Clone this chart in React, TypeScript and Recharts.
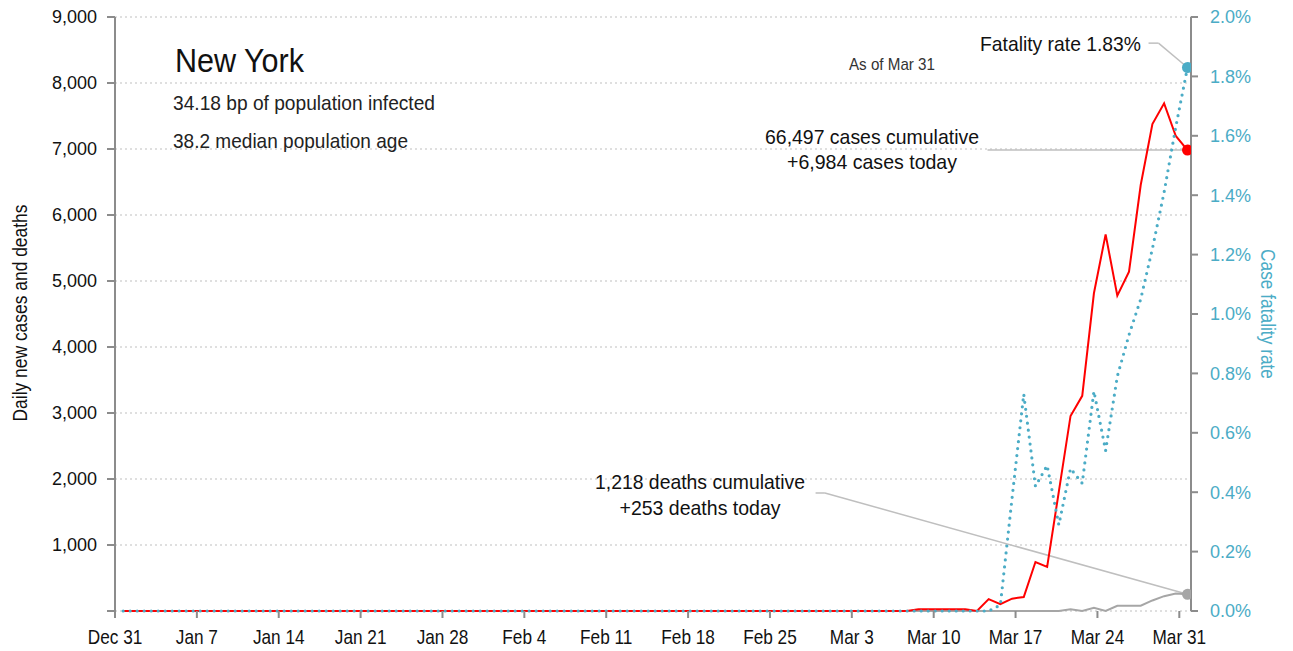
import React from "react";
import { LineChart, Line, XAxis, YAxis, CartesianGrid, ReferenceLine } from "recharts";

const SANS = '"Liberation Sans", Arial, Helvetica, sans-serif';

const RED = "#FF0000";
const CYAN = "#4BACC6";
const GREY = "#A6A6A6";
const LEADER = "#BFBFBF";
const AXIS = "#8C8C8C";

// Day 0 = Dec 31 2019 ... day 91 = Mar 31 2020 (reports land late in the day)
const REPORT_OFFSET = 0.7;
const TICK_DAYS = [0, 7, 14, 21, 28, 35, 42, 49, 56, 63, 70, 77, 84, 91];
const TICK_LABELS = ["Dec 31", "Jan 7", "Jan 14", "Jan 21", "Jan 28", "Feb 4", "Feb 11", "Feb 18", "Feb 25", "Mar 3", "Mar 10", "Mar 17", "Mar 24", "Mar 31"];
const LEFT_TICKS = [0, 1000, 2000, 3000, 4000, 5000, 6000, 7000, 8000, 9000];
const RIGHT_TICKS = [0, 0.2, 0.4, 0.6, 0.8, 1.0, 1.2, 1.4, 1.6, 1.8, 2.0];

// Daily new cases, Dec 31 .. Mar 31
const DAILY_CASES = [
  0, 0, 0, 0, 0, 0, 0, 0, 0, 0,
  0, 0, 0, 0, 0, 0, 0, 0, 0, 0,
  0, 0, 0, 0, 0, 0, 0, 0, 0, 0,
  0, 0, 0, 0, 0, 0, 0, 0, 0, 0,
  0, 0, 0, 0, 0, 0, 0, 0, 0, 0,
  0, 0, 0, 0, 0, 0, 0, 0, 0, 0,
  0, 0, 0, 0, 0, 0, 0, 0,
  25, 25, 25, 25, 25, 0, 180, 105, 187, 212, 742, 668,
  1810, 2955, 3260, 4814, 5707, 4777, 5141, 6454, 7379, 7692, 7197, 6984,
];

// Daily new deaths, Dec 31 .. Mar 31
const DAILY_DEATHS = [
  0, 0, 0, 0, 0, 0, 0, 0, 0, 0,
  0, 0, 0, 0, 0, 0, 0, 0, 0, 0,
  0, 0, 0, 0, 0, 0, 0, 0, 0, 0,
  0, 0, 0, 0, 0, 0, 0, 0, 0, 0,
  0, 0, 0, 0, 0, 0, 0, 0, 0, 0,
  0, 0, 0, 0, 0, 0, 0, 0, 0, 0,
  0, 0, 0, 0, 0, 0, 0, 0, 0, 0,
  0, 0, 0, 0, 0, 0, 0, 0, 0, 0,
  0,
  25, 0, 50, 0, 80, 80, 80, 160, 225, 265, 253,
];

// Case fatality rate (%), Dec 31 .. Mar 31
const FATALITY_RATE = [
  0, 0, 0, 0, 0, 0, 0, 0, 0, 0,
  0, 0, 0, 0, 0, 0, 0, 0, 0, 0,
  0, 0, 0, 0, 0, 0, 0, 0, 0, 0,
  0, 0, 0, 0, 0, 0, 0, 0, 0, 0,
  0, 0, 0, 0, 0, 0, 0, 0, 0, 0,
  0, 0, 0, 0, 0, 0, 0, 0, 0, 0,
  0, 0, 0, 0, 0, 0, 0, 0, 0, 0,
  0, 0, 0, 0, 0,
  0.02, 0.38, 0.73, 0.42, 0.49, 0.29, 0.48, 0.43, 0.74, 0.54,
  0.79, 0.93, 1.05, 1.22, 1.41, 1.63, 1.83,
];

const data = DAILY_CASES.map((c, i) => ({
  x: i + REPORT_OFFSET,
  cases: c,
  deaths: DAILY_DEATHS[i],
  rate: FATALITY_RATE[i],
}));
const LAST = data.length - 1;
const last = data[LAST];

const fmtThousands = (v: number) => v.toLocaleString("en-US");

const XTick = (props: any) => {
  const { x, y, payload } = props;
  const idx = TICK_DAYS.indexOf(payload.value);
  return (
    <text
      transform={`translate(${x} ${y}) scale(0.82 1)`}
      x={0}
      y={0}
      dy="0.71em"
      textAnchor="middle"
      fontFamily={SANS}
      fontSize={21}
      fill="#111"
    >
      {idx >= 0 ? TICK_LABELS[idx] : ""}
    </text>
  );
};

const LeftTick = (props: any) => {
  const { x, y, payload } = props;
  if (payload.value === 0) return <g />;
  return (
    <text x={x} y={y} dy="0.355em" textAnchor="end" fontFamily={SANS} fontSize={18} fill="#111">
      {fmtThousands(payload.value)}
    </text>
  );
};

const RightTick = (props: any) => {
  const { x, y, payload } = props;
  return (
    <text x={x} y={y} dy="0.355em" textAnchor="start" fontFamily={SANS} fontSize={18} fill={CYAN}>
      {`${Number(payload.value).toFixed(1)}%`}
    </text>
  );
};

const endDot = (color: string, r: number) => (p: any) => {
  if (p.index !== LAST) return <g key={`e${p.index}`} />;
  return <circle key={`e${p.index}`} cx={p.cx} cy={p.cy} r={r} fill={color} stroke="none" />;
};

type LabelProps = {
  x: number;
  y: number;
  size: number;
  width: number;
  anchor?: "start" | "middle" | "end";
  fill?: string;
  transform?: string;
  children: React.ReactNode;
};

const Label = ({ x, y, size, width, anchor = "start", fill = "#111", transform, children }: LabelProps) => (
  <text
    x={x}
    y={y}
    fontFamily={SANS}
    fontSize={size}
    fill={fill}
    textAnchor={anchor}
    textLength={width}
    lengthAdjust="spacingAndGlyphs"
    transform={transform}
  >
    {children}
  </text>
);

export default function App() {
  return (
    <div style={{ position: "fixed", left: 0, top: 0, width: 1293, height: 651, background: "#fff" }}>
      <LineChart width={1293} height={651} data={data} margin={{ top: 17, right: 0, bottom: 0, left: 0 }}>
        <CartesianGrid vertical={false} stroke={LEADER} strokeDasharray="2 3" />
        <XAxis
          type="number"
          dataKey="x"
          domain={[0, 92]}
          ticks={TICK_DAYS}
          interval={0}
          height={40}
          tickSize={7}
          tickMargin={11}
          axisLine={false}
          tickLine={{ stroke: AXIS, strokeWidth: 2 }}
          tick={XTick}
          allowDataOverflow
        />
        <YAxis
          domain={[0, 9000]}
          ticks={LEFT_TICKS}
          interval={0}
          width={115}
          tickSize={8}
          tickMargin={10}
          axisLine={{ stroke: AXIS, strokeWidth: 2 }}
          tickLine={{ stroke: AXIS, strokeWidth: 2 }}
          tick={LeftTick}
        />
        <YAxis
          yAxisId="right"
          orientation="right"
          domain={[0, 2]}
          ticks={RIGHT_TICKS}
          interval={0}
          width={102}
          tickSize={7}
          tickMargin={12}
          axisLine={{ stroke: AXIS, strokeWidth: 2 }}
          tickLine={{ stroke: AXIS, strokeWidth: 2 }}
          tick={RightTick}
        />

        <ReferenceLine segment={[{ x: 59.9, y: 1788 }, { x: 60.7, y: 1788 }]} stroke={LEADER} strokeWidth={1.5} ifOverflow="visible" />
        <ReferenceLine segment={[{ x: 60.7, y: 1788 }, { x: last.x, y: last.deaths }]} stroke={LEADER} strokeWidth={1.5} ifOverflow="visible" />
        <ReferenceLine segment={[{ x: 74.6, y: last.cases }, { x: last.x, y: last.cases }]} stroke={LEADER} strokeWidth={1.5} ifOverflow="visible" />
        <ReferenceLine yAxisId="right" segment={[{ x: 88.37, y: 1.912 }, { x: 89.22, y: 1.912 }]} stroke={LEADER} strokeWidth={1.5} ifOverflow="visible" />
        <ReferenceLine yAxisId="right" segment={[{ x: 89.22, y: 1.912 }, { x: last.x, y: last.rate }]} stroke={LEADER} strokeWidth={1.5} ifOverflow="visible" />

        <Line type="linear" dataKey="deaths" stroke={GREY} strokeWidth={2} dot={endDot(GREY, 5.5)} activeDot={false} isAnimationActive={false} />
        <Line type="linear" dataKey="cases" stroke={RED} strokeWidth={2} dot={endDot(RED, 5.5)} activeDot={false} isAnimationActive={false} />
        <Line
          type="linear"
          yAxisId="right"
          dataKey="rate"
          stroke={CYAN}
          strokeWidth={3.2}
          strokeDasharray="0 7"
          strokeLinecap="round"
          dot={endDot(CYAN, 5.5)}
          activeDot={false}
          isAnimationActive={false}
        />
      </LineChart>

      <svg width={1293} height={651} style={{ position: "absolute", left: 0, top: 0, pointerEvents: "none" }}>
        <Label x={175} y={71.5} size={34} width={129}>New York</Label>
        <Label x={173} y={110} size={21} width={262} fill="#222">34.18 bp of population infected</Label>
        <Label x={173} y={148} size={21} width={235} fill="#222">38.2 median population age</Label>
        <Label x={892} y={70} size={17} width={86} anchor="middle" fill="#333">As of Mar 31</Label>

        <Label x={1141} y={51} size={21} width={161} anchor="end">Fatality rate 1.83%</Label>

        <Label x={872} y={143.5} size={21} width={214} anchor="middle">66,497 cases cumulative</Label>
        <Label x={872} y={169} size={21} width={170} anchor="middle">+6,984 cases today</Label>

        <Label x={700} y={488.5} size={21} width={210} anchor="middle">1,218 deaths cumulative</Label>
        <Label x={700} y={515} size={21} width={161} anchor="middle">+253 deaths today</Label>

        <Label x={0} y={0} size={20} width={217} anchor="middle" transform="translate(27 313) rotate(-90)">
          Daily new cases and deaths
        </Label>
        <Label x={0} y={0} size={20} width={130} anchor="middle" fill={CYAN} transform="translate(1261 314) rotate(90)">
          Case fatality rate
        </Label>
      </svg>
    </div>
  );
}
